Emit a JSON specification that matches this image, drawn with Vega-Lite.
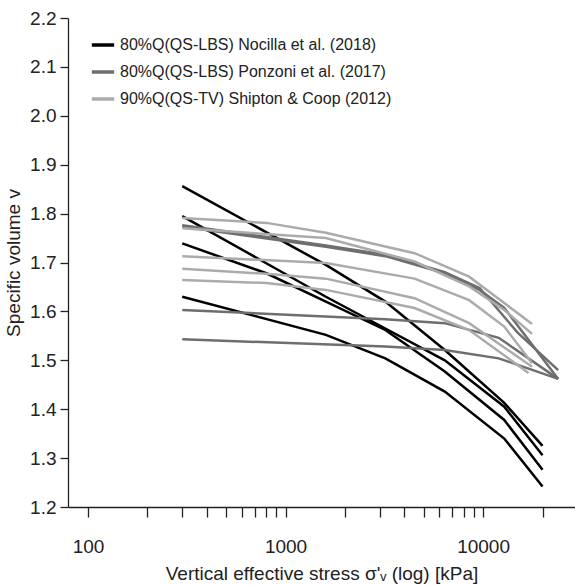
{
  "$schema": "https://vega.github.io/schema/vega-lite/v6.json",
  "autosize": "none",
  "width": 507,
  "height": 489,
  "padding": {"left": 68, "top": 18, "right": 0, "bottom": 78},
  "config": {
    "font": "Liberation Sans",
    "view": {"stroke": null},
    "axis": {"domainColor": "#222", "tickColor": "#222", "labelColor": "#222", "titleColor": "#222", "labelFontSize": 19, "titleFontSize": 19, "titleFontWeight": "normal", "grid": false, "domainWidth": 1.3, "tickWidth": 1.3}
  },
  "data": {"values": [
    {"s": "N", "id": "n1", "x": 300, "y": 1.856}, {"s": "N", "id": "n1", "x": 1600, "y": 1.695}, {"s": "N", "id": "n1", "x": 3200, "y": 1.62}, {"s": "N", "id": "n1", "x": 6400, "y": 1.521}, {"s": "N", "id": "n1", "x": 12800, "y": 1.413}, {"s": "N", "id": "n1", "x": 20000, "y": 1.325},
    {"s": "N", "id": "n2", "x": 300, "y": 1.795}, {"s": "N", "id": "n2", "x": 1600, "y": 1.63}, {"s": "N", "id": "n2", "x": 3200, "y": 1.565}, {"s": "N", "id": "n2", "x": 6400, "y": 1.5}, {"s": "N", "id": "n2", "x": 12800, "y": 1.405}, {"s": "N", "id": "n2", "x": 20000, "y": 1.306},
    {"s": "N", "id": "n3", "x": 300, "y": 1.739}, {"s": "N", "id": "n3", "x": 800, "y": 1.678}, {"s": "N", "id": "n3", "x": 1600, "y": 1.62}, {"s": "N", "id": "n3", "x": 3200, "y": 1.562}, {"s": "N", "id": "n3", "x": 6400, "y": 1.477}, {"s": "N", "id": "n3", "x": 12800, "y": 1.378}, {"s": "N", "id": "n3", "x": 20000, "y": 1.276},
    {"s": "N", "id": "n4", "x": 300, "y": 1.63}, {"s": "N", "id": "n4", "x": 1600, "y": 1.552}, {"s": "N", "id": "n4", "x": 3200, "y": 1.504}, {"s": "N", "id": "n4", "x": 6400, "y": 1.436}, {"s": "N", "id": "n4", "x": 12800, "y": 1.34}, {"s": "N", "id": "n4", "x": 20000, "y": 1.242},
    {"s": "P", "id": "p1", "x": 300, "y": 1.773}, {"s": "P", "id": "p1", "x": 1600, "y": 1.732}, {"s": "P", "id": "p1", "x": 3200, "y": 1.713}, {"s": "P", "id": "p1", "x": 6400, "y": 1.678}, {"s": "P", "id": "p1", "x": 9600, "y": 1.644}, {"s": "P", "id": "p1", "x": 12800, "y": 1.607}, {"s": "P", "id": "p1", "x": 24000, "y": 1.462},
    {"s": "P", "id": "p2", "x": 300, "y": 1.776}, {"s": "P", "id": "p2", "x": 1600, "y": 1.735}, {"s": "P", "id": "p2", "x": 3200, "y": 1.716}, {"s": "P", "id": "p2", "x": 6400, "y": 1.68}, {"s": "P", "id": "p2", "x": 9600, "y": 1.648}, {"s": "P", "id": "p2", "x": 15000, "y": 1.556}, {"s": "P", "id": "p2", "x": 24000, "y": 1.48},
    {"s": "P", "id": "p3", "x": 300, "y": 1.603}, {"s": "P", "id": "p3", "x": 3200, "y": 1.584}, {"s": "P", "id": "p3", "x": 6400, "y": 1.576}, {"s": "P", "id": "p3", "x": 12000, "y": 1.546}, {"s": "P", "id": "p3", "x": 24000, "y": 1.462},
    {"s": "P", "id": "p4", "x": 300, "y": 1.543}, {"s": "P", "id": "p4", "x": 3200, "y": 1.528}, {"s": "P", "id": "p4", "x": 6400, "y": 1.521}, {"s": "P", "id": "p4", "x": 12000, "y": 1.504}, {"s": "P", "id": "p4", "x": 24000, "y": 1.462},
    {"s": "S", "id": "s1", "x": 300, "y": 1.791}, {"s": "S", "id": "s1", "x": 800, "y": 1.781}, {"s": "S", "id": "s1", "x": 1600, "y": 1.761}, {"s": "S", "id": "s1", "x": 4500, "y": 1.719}, {"s": "S", "id": "s1", "x": 8500, "y": 1.671}, {"s": "S", "id": "s1", "x": 12800, "y": 1.617}, {"s": "S", "id": "s1", "x": 17700, "y": 1.574},
    {"s": "S", "id": "s2", "x": 300, "y": 1.77}, {"s": "S", "id": "s2", "x": 1600, "y": 1.75}, {"s": "S", "id": "s2", "x": 4500, "y": 1.702}, {"s": "S", "id": "s2", "x": 8500, "y": 1.651}, {"s": "S", "id": "s2", "x": 12800, "y": 1.603}, {"s": "S", "id": "s2", "x": 17700, "y": 1.554},
    {"s": "S", "id": "s3", "x": 300, "y": 1.713}, {"s": "S", "id": "s3", "x": 1600, "y": 1.699}, {"s": "S", "id": "s3", "x": 4500, "y": 1.667}, {"s": "S", "id": "s3", "x": 8500, "y": 1.623}, {"s": "S", "id": "s3", "x": 12800, "y": 1.569}, {"s": "S", "id": "s3", "x": 17700, "y": 1.494},
    {"s": "S", "id": "s4", "x": 300, "y": 1.687}, {"s": "S", "id": "s4", "x": 800, "y": 1.677}, {"s": "S", "id": "s4", "x": 1600, "y": 1.667}, {"s": "S", "id": "s4", "x": 4500, "y": 1.627}, {"s": "S", "id": "s4", "x": 8500, "y": 1.576}, {"s": "S", "id": "s4", "x": 17700, "y": 1.487},
    {"s": "S", "id": "s5", "x": 300, "y": 1.664}, {"s": "S", "id": "s5", "x": 800, "y": 1.658}, {"s": "S", "id": "s5", "x": 1600, "y": 1.644}, {"s": "S", "id": "s5", "x": 4500, "y": 1.607}, {"s": "S", "id": "s5", "x": 8500, "y": 1.562}, {"s": "S", "id": "s5", "x": 17000, "y": 1.474}
  ]},
  "mark": {"type": "line", "strokeWidth": 2.5},
  "encoding": {
    "x": {"field": "x", "type": "quantitative", "title": "Vertical effective stress σ'ᵥ (log) [kPa]",
      "scale": {"type": "log", "domain": [79.2, 29200], "nice": false},
      "axis": {"values": [100, 200, 300, 400, 500, 600, 700, 800, 900, 1000, 2000, 3000, 4000, 5000, 6000, 7000, 8000, 9000, 10000, 20000],
        "labelExpr": "datum.value == 100 || datum.value == 1000 || datum.value == 10000 ? datum.value : ''",
        "tickSize": 10, "tickOffset": 0, "labelPadding": 20, "titleY": 57}},
    "y": {"field": "y", "type": "quantitative", "title": "Specific volume v",
      "scale": {"domain": [1.2, 2.2], "nice": false},
      "axis": {"values": [1.2, 1.3, 1.4, 1.5, 1.6, 1.7, 1.8, 1.9, 2.0, 2.1, 2.2], "format": ".1f", "tickSize": 8, "labelPadding": 4, "titlePadding": 6}},
    "detail": {"field": "id"},
    "color": {"field": "s", "type": "nominal",
      "scale": {"domain": ["N", "P", "S"], "range": ["#000000", "#6e6e6e", "#ababab"]},
      "legend": {"orient": "none", "legendX": 22, "legendY": 14, "title": null, "symbolType": "stroke", "symbolStrokeWidth": 3.5, "symbolSize": 500, "labelFontSize": 16, "labelLimit": 0, "labelColor": "#222", "rowPadding": 6,
        "labelExpr": "datum.value == 'N' ? '80%Q(QS-LBS) Nocilla et al. (2018)' : datum.value == 'P' ? '80%Q(QS-LBS) Ponzoni et al. (2017)' : '90%Q(QS-TV) Shipton & Coop (2012)'"}}
  }
}
